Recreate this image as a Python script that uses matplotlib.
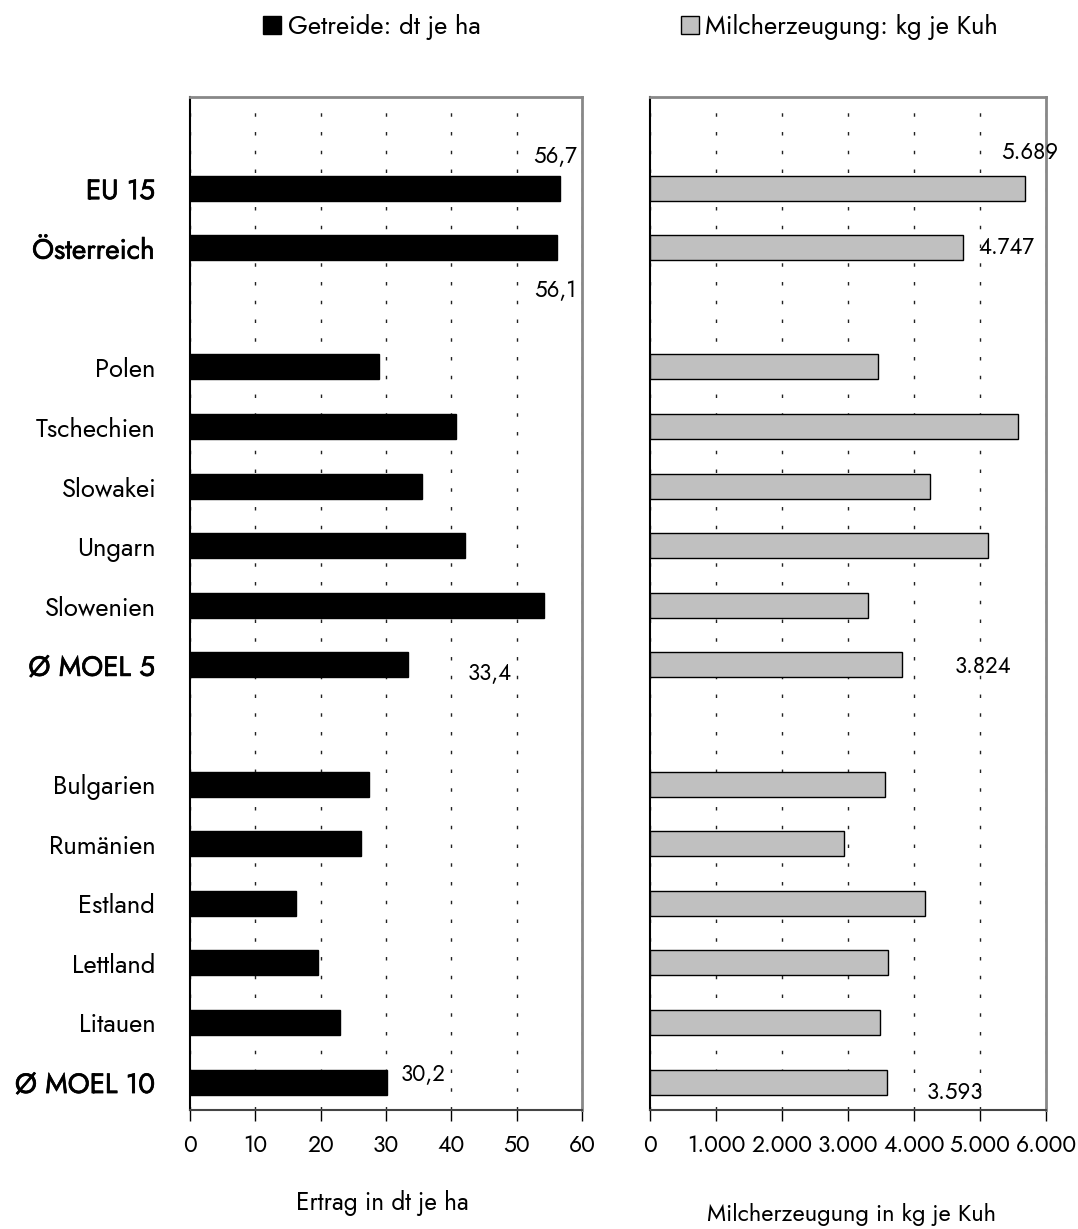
import matplotlib
matplotlib.use("Agg")
import matplotlib.pyplot as plt
import matplotlib.patheffects as pe
from matplotlib.patches import Patch

plt.rcParams['font.family'] = ['Jost', 'Lato', 'DejaVu Sans']
plt.rcParams['font.weight'] = 300

# Categories from top to bottom; None marks an empty row between the groups
laender = ["EU 15", "Österreich", None,
           "Polen", "Tschechien", "Slowakei", "Ungarn", "Slowenien", "Ø MOEL 5", None,
           "Bulgarien", "Rumänien", "Estland", "Lettland", "Litauen", "Ø MOEL 10"]
fett = ["EU 15", "Österreich", "Ø MOEL 5", "Ø MOEL 10"]

# Getreide: dt je ha
getreide = [56.7, 56.1, None,
            28.9, 40.7, 35.5, 42.1, 54.2, 33.4, None,
            27.4, 26.2, 16.2, 19.6, 23.0, 30.2]

# Milcherzeugung: kg je Kuh
milch = [5689, 4747, None,
         3455, 5576, 4242, 5121, 3303, 3824, None,
         3561, 2939, 4167, 3606, 3485, 3593]

getreide_ticks = [0, 10, 20, 30, 40, 50, 60]
milch_ticks = [0, 1000, 2000, 3000, 4000, 5000, 6000]
milch_ticklabels = ["0", "1.000", "2.000", "3.000", "4.000", "5.000", "6.000"]

# value labels: (row, x offset, y offset)
getreide_beschr = [(0, -0.8, -0.55), (1, -0.2, 0.72), (8, 12.5, 0.13), (15, 5.5, -0.15)]
milch_beschr = [(0, 70, -0.59), (1, 660, 0.0), (8, 1220, 0.03), (15, 1030, 0.17)]

zeilen = [i for i, n in enumerate(laender) if n is not None]

fig = plt.figure(figsize=(10.78, 12.29), dpi=100)
ax1 = fig.add_axes([0.1763, 0.0968, 0.3636, 0.8243])
ax2 = fig.add_axes([0.6030, 0.0968, 0.3673, 0.8243])

grid_style = dict(color="#222222", linewidth=1.0, linestyle=(0, (2.5, 11)))


def rahmen(ax):
    ax.spines['left'].set_color("black")
    ax.spines['left'].set_linewidth(1.5)
    ax.spines['bottom'].set_color("#444444")
    ax.spines['bottom'].set_linewidth(1.5)
    ax.spines['top'].set_color("#888888")
    ax.spines['top'].set_linewidth(2)
    ax.spines['right'].set_color("#888888")
    ax.spines['right'].set_linewidth(2)
    ax.set_ylim(15.47, -1.53)
    ax.tick_params(axis='x', direction='out', length=8, width=1, pad=9, labelsize=16.5)
    ax.tick_params(axis='y', length=0)
    ax.xaxis.grid(True, **grid_style)
    ax.set_axisbelow(True)


# left panel: Getreide
ax1.barh(zeilen, [getreide[i] for i in zeilen], height=0.42, color="black",
         edgecolor="black", zorder=3)
ax1.set_xlim(0, 60)
ax1.set_xticks(getreide_ticks)
rahmen(ax1)
ax1.set_yticks(zeilen)
ax1.set_yticklabels([laender[i] for i in zeilen], fontsize=18.5)
# emphasised rows get a heavier, slightly larger label
for lbl in ax1.get_yticklabels():
    if lbl.get_text() in fett:
        lbl.set_fontsize(20)
        lbl.set_path_effects([pe.withStroke(linewidth=0.5, foreground="black")])
ax1.tick_params(axis='y', pad=25)
for i, dx, dy in getreide_beschr:
    ax1.text(getreide[i] + dx, i + dy, f"{getreide[i]:.1f}".replace(".", ","),
             ha="center", va="center", fontsize=16, zorder=4)
ax1.set_xlabel("Ertrag in dt je ha", fontsize=17.5)
ax1.xaxis.set_label_coords(0.49, -0.092)
ax1.xaxis.label.set_va("center")
ax1.legend(handles=[Patch(facecolor="black", edgecolor="black", label="Getreide: dt je ha")],
           loc="center", bbox_to_anchor=(0.464, 1.069), frameon=False,
           handlelength=0.7, handleheight=0.7, handletextpad=0.25, fontsize=18.5)

# right panel: Milch
ax2.barh(zeilen, [milch[i] for i in zeilen], height=0.42, color="#c0c0c0",
         edgecolor="black", linewidth=1, zorder=3)
ax2.set_xlim(0, 6000)
ax2.set_xticks(milch_ticks)
ax2.set_xticklabels(milch_ticklabels)
rahmen(ax2)
ax2.set_yticks([])
for i, dx, dy in milch_beschr:
    ax2.text(milch[i] + dx, i + dy, f"{milch[i]:,}".replace(",", "."),
             ha="center", va="center", fontsize=16, zorder=4)
ax2.set_xlabel("Milcherzeugung in kg je Kuh", fontsize=17)
ax2.xaxis.set_label_coords(0.51, -0.103)
ax2.xaxis.label.set_va("center")
ax2.legend(handles=[Patch(facecolor="#c0c0c0", edgecolor="black", label="Milcherzeugung: kg je Kuh")],
           loc="center", bbox_to_anchor=(0.4785, 1.069), frameon=False,
           handlelength=0.7, handleheight=0.7, handletextpad=0.25, fontsize=18.5)

fig.savefig("out.png", dpi=100)
